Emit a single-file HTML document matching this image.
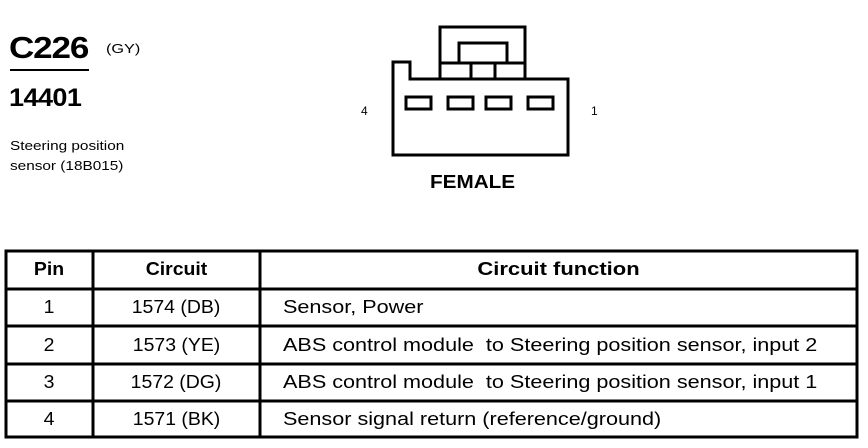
<!DOCTYPE html>
<html><head><style>
body{margin:0;width:868px;height:448px;background:#fff;position:relative;overflow:hidden;font-family:"Liberation Sans",Arial,sans-serif;color:#000}
.a{position:absolute;white-space:nowrap;transform-origin:left top}
.c{position:absolute;text-align:center;font-size:18px}
.c span{display:inline-block;transform:scaleX(1.08)}
.f{position:absolute;left:283px;font-size:18px;white-space:nowrap;transform:scaleX(1.2);transform-origin:left top}
.b{font-weight:bold}
</style></head><body>
<div class="a b" style="left:9px;top:30px;font-size:31px;letter-spacing:-1px;transform:scaleX(1.13)">C226</div>
<div class="a" style="left:10px;top:69px;width:79px;height:2px;background:#000"></div>
<div class="a" style="left:106px;top:41px;font-size:13px;transform:scaleX(1.25)">(GY)</div>
<div class="a b" style="left:9px;top:84px;font-size:25px;letter-spacing:-0.5px;transform:scaleX(1.08)">14401</div>
<div class="a" style="left:10px;top:136px;font-size:13px;line-height:20px;transform:scaleX(1.18)">Steering position<br>sensor (18B015)</div>
<svg class="a" style="left:0;top:0" width="868" height="448">
<g fill="none" stroke="#000" stroke-width="3">
<rect x="440" y="27" width="85" height="52"/>
<rect x="459" y="43" width="48" height="20"/>
<line x1="440" y1="63" x2="525" y2="63"/>
<line x1="471" y1="63" x2="471" y2="79"/>
<line x1="495" y1="63" x2="495" y2="79"/>
<path d="M393 62 H410 V79 H568 V155 H393 Z"/>
<rect x="406" y="97" width="25" height="12"/>
<rect x="448" y="97" width="25" height="12"/>
<rect x="486" y="97" width="25" height="12"/>
<rect x="528" y="97" width="25" height="12"/>
<rect x="6" y="251" width="851" height="186"/>
<line x1="6" y1="289" x2="857" y2="289"/>
<line x1="6" y1="326" x2="857" y2="326"/>
<line x1="6" y1="364" x2="857" y2="364"/>
<line x1="6" y1="401" x2="857" y2="401"/>
<line x1="93" y1="251" x2="93" y2="437"/>
<line x1="260" y1="251" x2="260" y2="437"/>
</g></svg>
<div class="a" style="left:361px;top:104px;font-size:12px">4</div>
<div class="a" style="left:591px;top:104px;font-size:12px">1</div>
<div class="a b" style="left:430px;top:172px;font-size:18px;transform:scaleX(1.15)">FEMALE</div>
<div class="c b" style="left:6px;width:87px;top:259px"><span>Pin</span></div>
<div class="c b" style="left:93px;width:167px;top:259px"><span>Circuit</span></div>
<div class="c b" style="left:260px;width:597px;top:259px"><span style="transform:scaleX(1.22)">Circuit function</span></div>
<div class="c" style="left:6px;width:87px;top:297px"><span>1</span></div>
<div class="c" style="left:93px;width:167px;top:297px"><span>1574 (DB)</span></div>
<div class="f" style="top:297px">Sensor, Power</div>
<div class="c" style="left:6px;width:87px;top:335px"><span>2</span></div>
<div class="c" style="left:93px;width:167px;top:335px"><span>1573 (YE)</span></div>
<div class="f" style="top:335px">ABS control module&nbsp; to Steering position sensor, input 2</div>
<div class="c" style="left:6px;width:87px;top:372px"><span>3</span></div>
<div class="c" style="left:93px;width:167px;top:372px"><span>1572 (DG)</span></div>
<div class="f" style="top:372px">ABS control module&nbsp; to Steering position sensor, input 1</div>
<div class="c" style="left:6px;width:87px;top:409px"><span>4</span></div>
<div class="c" style="left:93px;width:167px;top:409px"><span>1571 (BK)</span></div>
<div class="f" style="top:409px">Sensor signal return (reference/ground)</div>
</body></html>
